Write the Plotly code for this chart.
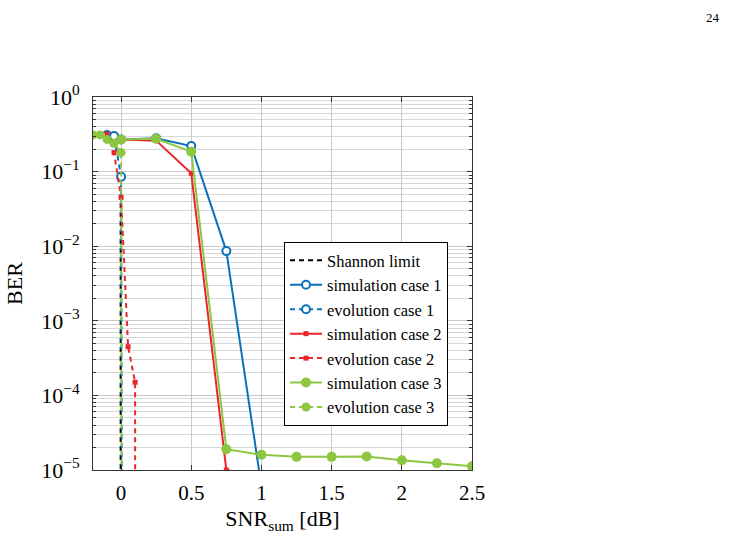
import plotly.graph_objects as go

# ---- data ----
shannon_x = [-0.003, -0.003]
shannon_y = [0.05, 1e-5]

sim1_x = [0.0, 0.25, 0.5, 0.75, 1.0]
sim1_y = [0.27, 0.28, 0.22, 0.0086, 6e-6]

evo1_x = [-0.1, -0.05, 0.0, 0.006]
evo1_y = [0.31, 0.30, 0.085, 1e-6]

sim2_x = [0.0, 0.25, 0.5, 0.75, 1.0]
sim2_y = [0.27, 0.26, 0.095, 1.0e-5, 8e-6]

evo2_x = [-0.1, -0.05, 0.0, 0.05, 0.1, 0.101]
evo2_y = [0.32, 0.18, 0.045, 4.5e-4, 1.5e-4, 1e-7]

sim3_x = [0.0, 0.25, 0.5, 0.75, 1.0, 1.25, 1.5, 1.75, 2.0, 2.25, 2.5]
sim3_y = [0.27, 0.275, 0.185, 1.9e-5, 1.6e-5, 1.5e-5, 1.5e-5, 1.52e-5, 1.35e-5, 1.23e-5, 1.12e-5]

evo3_x = [-0.2, -0.15, -0.1, -0.05, 0.0, 0.005]
evo3_y = [0.31, 0.31, 0.27, 0.24, 0.18, 1e-6]

ytick_vals = [1e-5, 1e-4, 1e-3, 1e-2, 1e-1, 1e0]
ytick_text = ["10<sup>−5</sup>", "10<sup>−4</sup>", "10<sup>−3</sup>",
              "10<sup>−2</sup>", "10<sup>−1</sup>", "10<sup>0</sup>"]
xtick_vals = [0, 0.5, 1, 1.5, 2, 2.5]
xtick_text = ["0", "0.5", "1", "1.5", "2", "2.5"]

BLUE = "#0A72BA"
RED = "#E9262C"
GREEN = "#8DC641"
DASH = "5px,4px"
FONT = "Liberation Serif"

fig = go.Figure()

fig.add_trace(go.Scatter(x=shannon_x, y=shannon_y, mode="lines", name="Shannon limit",
                         line=dict(color="black", width=2, dash=DASH)))
fig.add_trace(go.Scatter(x=sim1_x, y=sim1_y, mode="lines+markers", name="simulation case 1",
                         line=dict(color=BLUE, width=2),
                         marker=dict(symbol="circle", size=8, color="white",
                                     line=dict(color=BLUE, width=2))))
fig.add_trace(go.Scatter(x=evo1_x, y=evo1_y, mode="lines+markers", name="evolution case 1",
                         line=dict(color=BLUE, width=2, dash=DASH),
                         marker=dict(symbol="circle", size=8, color="white",
                                     line=dict(color=BLUE, width=2))))
fig.add_trace(go.Scatter(x=sim2_x, y=sim2_y, mode="lines+markers", name="simulation case 2",
                         line=dict(color=RED, width=2),
                         marker=dict(symbol="square", size=5, color=RED)))
fig.add_trace(go.Scatter(x=evo2_x, y=evo2_y, mode="lines+markers", name="evolution case 2",
                         line=dict(color=RED, width=2, dash=DASH),
                         marker=dict(symbol="square", size=5, color=RED)))
fig.add_trace(go.Scatter(x=sim3_x, y=sim3_y, mode="lines+markers", name="simulation case 3",
                         line=dict(color=GREEN, width=2),
                         marker=dict(symbol="circle", size=10, color=GREEN)))
fig.add_trace(go.Scatter(x=evo3_x, y=evo3_y, mode="lines+markers", name="evolution case 3",
                         line=dict(color=GREEN, width=2, dash=DASH),
                         marker=dict(symbol="circle", size=9, color=GREEN)))

axis_common = dict(showline=True, linecolor="#333333", linewidth=1, mirror="ticks",
                   ticks="inside", ticklen=5, tickcolor="#333333",
                   showgrid=True, gridcolor="#C8C8C8", gridwidth=1, zeroline=False)

fig.update_xaxes(range=[-0.2, 2.5], tickvals=xtick_vals, ticktext=xtick_text,
                 ticklabelstandoff=4,
                 tickfont=dict(family=FONT, size=21, color="black"),
                 title=dict(text="SNR<sub>sum</sub> [dB]", font=dict(family=FONT, size=22, color="black"),
                            standoff=6),
                 **axis_common)
fig.update_yaxes(type="log", range=[-5, 0], tickvals=ytick_vals, ticktext=ytick_text,
                 ticklabelstandoff=8,
                 tickfont=dict(family=FONT, size=22, color="black"),
                 title=dict(text="BER", font=dict(family=FONT, size=22, color="black"), standoff=12),
                 minor=dict(ticks="inside", ticklen=3, tickcolor="#333333", showgrid=True,
                            gridcolor="#D8D8D8", dtick="D1"),
                 **axis_common)

fig.update_layout(
    width=729, height=539,
    margin=dict(l=93, r=257, t=97, b=67),
    paper_bgcolor="white", plot_bgcolor="white",
    font=dict(family=FONT, color="black"),
    legend=dict(x=0.504, y=0.611, xanchor="left", yanchor="top",
                bgcolor="white", bordercolor="black", borderwidth=1,
                font=dict(family=FONT, size=16.5, color="black"),
                tracegroupgap=0, itemwidth=32, entrywidth=180),
    annotations=[dict(text="24", xref="paper", yref="paper", showarrow=False,
                      x=(713 - 93) / 379, y=(472 - 17) / 375, xanchor="center", yanchor="middle",
                      font=dict(family=FONT, size=13, color="black"))],
)

fig.write_html("out.html")
